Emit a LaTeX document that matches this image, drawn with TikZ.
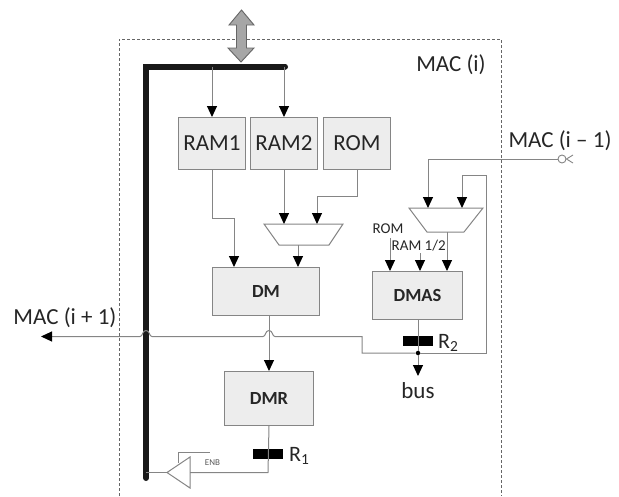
\documentclass[tikz,border=0pt]{standalone}
\usepackage{fontspec}
\setmainfont{Carlito}
\usetikzlibrary{arrows.meta,calc}
\definecolor{wire}{HTML}{858585}
\definecolor{boxfill}{HTML}{EDEDED}
\definecolor{ink}{HTML}{262626}
\tikzset{
  block/.style={draw=wire,fill=boxfill,line width=1pt,inner sep=0pt,text=ink,anchor=north west,align=center},
  bigblock/.style={block,font=\fontsize{23}{23}\selectfont},
  boldblock/.style={block,font=\fontsize{18.5}{18.5}\selectfont\bfseries},
  wireline/.style={draw=wire,line width=1pt},
  arrowline/.style={wireline,-{Triangle[length=11pt,width=10pt,color=black]}},
  bus/.style={draw=black!90,line width=6pt,line cap=round,line join=miter},
  regbar/.style={fill=black,draw=none,minimum width=30pt,minimum height=10pt,inner sep=0pt},
  biglabel/.style={text=ink,inner sep=0pt,font=\fontsize{23}{23}\selectfont},
  smalllabel/.style={text=ink,inner sep=0pt,font=\fontsize{15}{15}\selectfont},
  muxshape/.style={draw=wire,line width=1pt,fill=white,line join=miter},
}
\begin{document}
\begin{tikzpicture}[x=1pt,y=-1pt]
\useasboundingbox (0,0) rectangle (619,496);
% MAC boundary
\draw[draw=black!60,line width=.7pt,dash pattern=on 3pt off 2pt] (119,496) -- (119,39) -- (501,39) -- (501,496);
% blocks
\node[bigblock,minimum width=67pt,minimum height=52pt] (ram1) at (178,117) {RAM1};
\node[bigblock,minimum width=67pt,minimum height=52pt] (ram2) at (250,117) {RAM2};
\node[bigblock,minimum width=67pt,minimum height=52pt] (rom) at (323,117) {ROM};
\node[boldblock,minimum width=107pt,minimum height=48pt] (dm) at (212,267) {DM};
\node[boldblock,minimum width=89pt,minimum height=54pt] (dmr) at (224,371) {DMR};
\node[boldblock,minimum width=90pt,minimum height=48pt] (dmas) at (372,271) {DMAS};
% bus
\coordinate (busend) at (285,66.5);
\coordinate (buscorner) at (146,66.5);
\coordinate (busfoot) at (146,478);
\draw[bus] (busend) -- (buscorner) -- (busfoot);
% bidirectional port
\draw[fill=black!35,draw=black!60,line width=.9pt,line join=miter]
  (241.5,10) -- (254,25) -- (246.5,25) -- (246.5,48) -- (254,48) -- (241,62) -- (228,48) -- (236.5,48) -- (236.5,25) -- (229,25) -- cycle;
% memories
\draw[arrowline] (ram1.north |- buscorner) -- (ram1.north);
\draw[arrowline] (ram2.north |- buscorner) -- (ram2.north);
% first mux
\coordinate (ma1) at (264,224); \coordinate (ma2) at (343,224);
\coordinate (ma3) at (329,245); \coordinate (ma4) at (279,245);
\coordinate (maout) at (298,245);
\draw[muxshape] (ma1) -- (ma2) -- (ma3) -- (ma4) -- cycle;
\coordinate (main1) at (284,224); \coordinate (main2) at (317,224);
\draw[arrowline] (ram2.south) -- (main1 |- ma1);
\draw[arrowline] (rom.south) -- (rom.south |- 0,196) -- (main2 |- 0,196) -- (main2);
\coordinate (dmin1) at (234,267);
\draw[arrowline] (ram1.south) -- (ram1.south |- 0,218) -- (dmin1 |- 0,218) -- (dmin1);
\draw[arrowline] (maout) -- (maout |- dm.north);
% DM to DMR
\draw[arrowline] (dm.south -| dmr.north) -- (dmr.north);
% R1
\node[regbar] (r1) at (268,454) {};
\node[biglabel,font=\fontsize{22}{22}\selectfont,anchor=west] (r1label) at (289,456) {R\textsubscript{1}};
\coordinate (dmrturn) at (268,472.5);
% buffer
\coordinate (buftip) at (167,472.5);
\coordinate (bufa) at (190,457); \coordinate (bufb) at (190,488);
\coordinate (bufin) at (190,472.5);
\draw[muxshape] (buftip) -- (bufa) -- (bufb) -- cycle;
\draw[wireline] (dmr.south) -- (dmrturn) -- (bufin);
\draw[wireline] (buftip) -- (busfoot |- buftip);
\coordinate (enb1) at (178,463); \coordinate (enb2) at (178,452); \coordinate (enb3) at (210,452);
\draw[draw=wire,line width=.9pt] (enb1) -- (enb2) -- (enb3);
\node[text=black!65,inner sep=0pt,font=\fontsize{9}{9}\selectfont] (enb) at (212.5,462.5) {ENB};
% second mux
\coordinate (mb1) at (409,208); \coordinate (mb2) at (483,208);
\coordinate (mb3) at (464,232); \coordinate (mb4) at (427,232);
\draw[muxshape] (mb1) -- (mb2) -- (mb3) -- (mb4) -- cycle;
\coordinate (mbin1) at (428,208); \coordinate (mbin2) at (462,208);
\coordinate (mbout) at (447,232);
% MAC (i-1) input
\node[draw=wire,fill=white,circle,line width=.9pt,minimum size=8pt,inner sep=0pt] (port) at (562,159) {};
\coordinate (forka) at (573,155); \coordinate (forkb) at (573,163);
\draw[draw=wire,line width=.9pt] (forka) -- (port.east) -- (forkb);
\draw[arrowline] (port.west) -- (mbin1 |- port.west) -- (mbin1);
\node[biglabel,anchor=center] (maciminus) at (560,141) {MAC (i – 1)};
% DMAS inputs
\coordinate (dinrom) at (390,238); \coordinate (dinram) at (420,253);
\draw[arrowline] (dinrom) -- (dinrom |- dmas.north);
\draw[arrowline] (dinram) -- (dinram |- dmas.north);
\draw[arrowline] (mbout) -- (mbout |- dmas.north);
\node[smalllabel] (romlabel) at (388,228.5) {ROM};
\node[smalllabel,anchor=west] (ramlabel) at (391.5,245.5) {RAM 1/2};
% R2, feedback and MAC (i+1)
\node[regbar] (r2) at (418,341) {};
\node[biglabel,font=\fontsize{22}{22}\selectfont,anchor=west] (r2label) at (438,343) {R\textsubscript{2}};
\node[fill=black,circle,inner sep=0pt,minimum size=4.5pt] (jn) at (418,353) {};
\coordinate (bustip) at (418,376);
\draw[wireline] (dmas.south -| jn) -- (jn);
\draw[arrowline] (jn) -- (bustip);
\node[biglabel] (buslabel) at (418,391) {bus};
\coordinate (fb1) at (486,353); \coordinate (fb2) at (486,175); \coordinate (fb3) at (462,175);
\draw[arrowline] (jn) -- (fb1) -- (fb2) -- (fb3) -- (mbin2);
\coordinate (ob1) at (362,353); \coordinate (ob2) at (362,336.5);
\coordinate (jumpa) at (269,336.5); \coordinate (jumpb) at (146,336.5);
\coordinate (outtip) at (41,336.5);
\draw[arrowline] (jn) -- (ob1) -- (ob2) -- ($(jumpa)+(6,0)$)
  .. controls ($(jumpa)+(3,0)$) and ($(jumpa)+(4,-6)$) .. ($(jumpa)+(0,-6)$)
  .. controls ($(jumpa)+(-4,-6)$) and ($(jumpa)+(-3,0)$) .. ($(jumpa)+(-6,0)$)
  -- ($(jumpb)+(6,0)$)
  .. controls ($(jumpb)+(3,0)$) and ($(jumpb)+(4,-6)$) .. ($(jumpb)+(0,-6)$)
  .. controls ($(jumpb)+(-4,-6)$) and ($(jumpb)+(-3,0)$) .. ($(jumpb)+(-6,0)$)
  -- (outtip);
% labels
\node[biglabel] (maci) at (451,65) {MAC (i)};
\node[biglabel] (maciplus) at (65,318) {MAC (i + 1)};
\end{tikzpicture}
\end{document}
